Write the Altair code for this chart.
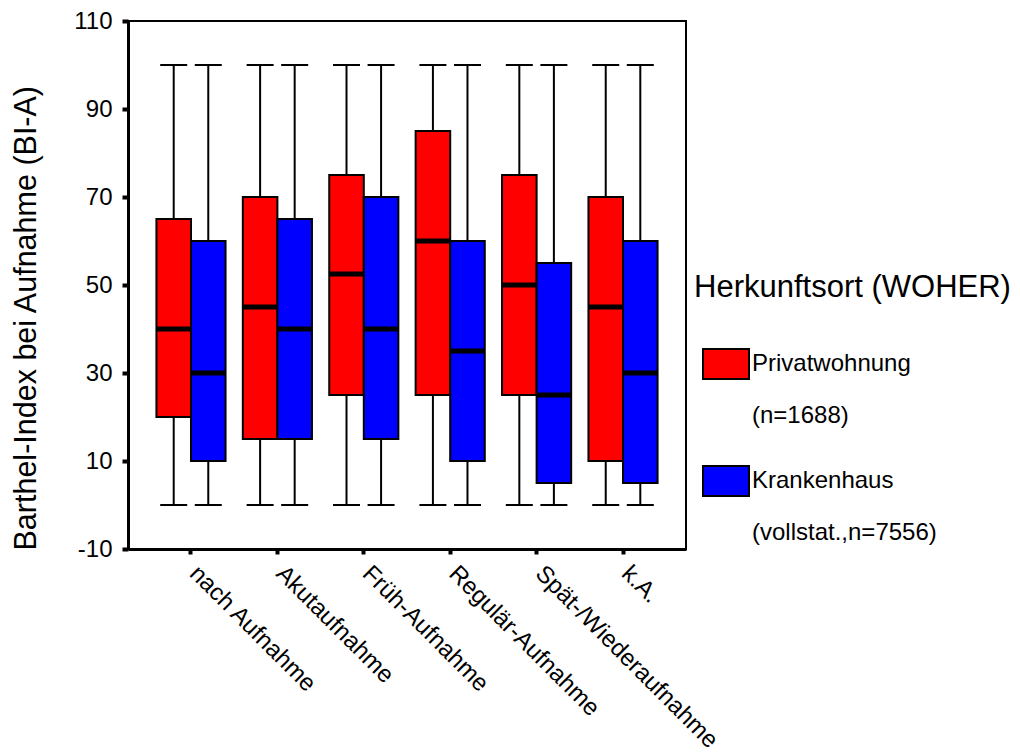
import altair as alt
import pandas as pd

categories = ["nach Aufnahme", "Akutaufnahme", "Früh-Aufnahme",
              "Regulär-Aufnahme", "Spät-/Wiederaufnahme", "k.A."]
groups = ["Privatwohnung", "Krankenhaus"]
group_labels = [["Privatwohnung", "(n=1688)"],
                ["Krankenhaus", "(vollstat.,n=7556)"]]
colors = ["#ff0000", "#0000ff"]

priv_min = [0, 0, 0, 0, 0, 0]
priv_q1 = [20, 15, 25, 25, 25, 10]
priv_med = [40, 45, 52.5, 60, 50, 45]
priv_q3 = [65, 70, 75, 85, 75, 70]
priv_max = [100, 100, 100, 100, 100, 100]

kh_min = [0, 0, 0, 0, 0, 0]
kh_q1 = [10, 15, 15, 10, 5, 5]
kh_med = [30, 40, 40, 35, 25, 30]
kh_q3 = [60, 65, 70, 60, 55, 60]
kh_max = [100, 100, 100, 100, 100, 100]

y_ticks = [-10, 10, 30, 50, 70, 90, 110]

rows = []
for g, (mn, q1, md, q3, mx) in zip(groups, [(priv_min, priv_q1, priv_med, priv_q3, priv_max),
                                            (kh_min, kh_q1, kh_med, kh_q3, kh_max)]):
    for i, c in enumerate(categories):
        rows.append(dict(cat=c, grp=g, lo=mn[i], q1=q1[i], med=md[i], q3=q3[i], hi=mx[i]))
df = pd.DataFrame(rows)

FONT = "Liberation Sans, Arial, sans-serif"


def js_list(items):
    return "[" + ", ".join("'" + s + "'" for s in items) + "]"


label_expr = " : ".join(
    [f"datum.label == '{g}' ? {js_list(lbl)}" for g, lbl in zip(groups, group_labels)]
) + " : datum.label"

x_enc = alt.X("cat:N", sort=categories, title=None,
              scale=alt.Scale(paddingInner=0.2, paddingOuter=0.329),
              axis=alt.Axis(labelAngle=45, labelAlign="left", labelBaseline="top",
                            labelFontSize=24, labelFont=FONT, labelColor="black",
                            labelOffset=11, labelPadding=7, tickSize=5, tickWidth=4,
                            tickColor="black", domainColor="black", domainWidth=3,
                            labelLimit=400))
xo_enc = alt.XOffset("grp:N", sort=groups, scale=alt.Scale(paddingInner=0, paddingOuter=0))
y_scale = alt.Scale(domain=[-10, 110], nice=False, zero=False)

base = alt.Chart(df)

whisker = base.mark_rule(color="black", strokeWidth=2).encode(
    x=x_enc, xOffset=xo_enc,
    y=alt.Y("lo:Q", scale=y_scale,
            axis=alt.Axis(values=y_ticks, title="Barthel-Index bei Aufnahme (BI-A)",
                          labelExpr="'' + datum.value",
                          titleFontSize=30.5, titleFont=FONT, titleFontWeight="normal",
                          titleColor="black", titleAngle=270, titleAlign="left",
                          titleBaseline="top", titleX=-117, titleY=529, titleLimit=600,
                          labelFontSize=24, labelFont=FONT, labelColor="black",
                          labelPadding=10, tickSize=6, tickWidth=4, tickColor="black",
                          domainColor="black", domainWidth=3, grid=False)),
    y2="hi:Q")

caps_lo = base.mark_tick(color="black", thickness=2, size=27, orient="horizontal",
                         opacity=1).encode(
    x=x_enc, xOffset=xo_enc, y=alt.Y("lo:Q", scale=y_scale))
caps_hi = base.mark_tick(color="black", thickness=2, size=27, orient="horizontal",
                         opacity=1).encode(
    x=x_enc, xOffset=xo_enc, y=alt.Y("hi:Q", scale=y_scale))

boxes = base.mark_bar(stroke="black", strokeWidth=2, opacity=1).encode(
    x=x_enc, xOffset=xo_enc,
    y=alt.Y("q1:Q", scale=y_scale), y2="q3:Q",
    fill=alt.Fill("grp:N", sort=groups,
                  scale=alt.Scale(domain=groups, range=colors),
                  legend=alt.Legend(title="Herkunftsort (WOHER)", orient="none",
                                    legendX=566, legendY=252, padding=0,
                                    titleFontSize=31, titleFont=FONT, titleLimit=400,
                                    titleFontWeight="normal", titleColor="black",
                                    titlePadding=36, labelFontSize=24, labelFont=FONT,
                                    labelColor="black", labelExpr=label_expr,
                                    labelOffset=2, labelLimit=400,
                                    symbolType="M-1,-0.652L1,-0.652L1,0.652L-1,0.652Z",
                                    symbolSize=2116, symbolStrokeColor="black",
                                    symbolStrokeWidth=2, symbolOffset=8,
                                    rowPadding=29)))

medians = base.mark_tick(color="black", thickness=5, size=34, orient="horizontal",
                         opacity=1).encode(
    x=x_enc, xOffset=xo_enc, y=alt.Y("med:Q", scale=y_scale))

chart = alt.layer(whisker, caps_lo, caps_hi, boxes, medians).properties(
    width=558, height=528,
    padding={"left": 2, "top": 1, "right": 0, "bottom": 0},
).configure(font=FONT, style={"guide-label": {"lineHeight": 52}}).configure_view(
    stroke="black", strokeWidth=2)

chart.save("out.html", embed_options={"renderer": "svg", "actions": False})
